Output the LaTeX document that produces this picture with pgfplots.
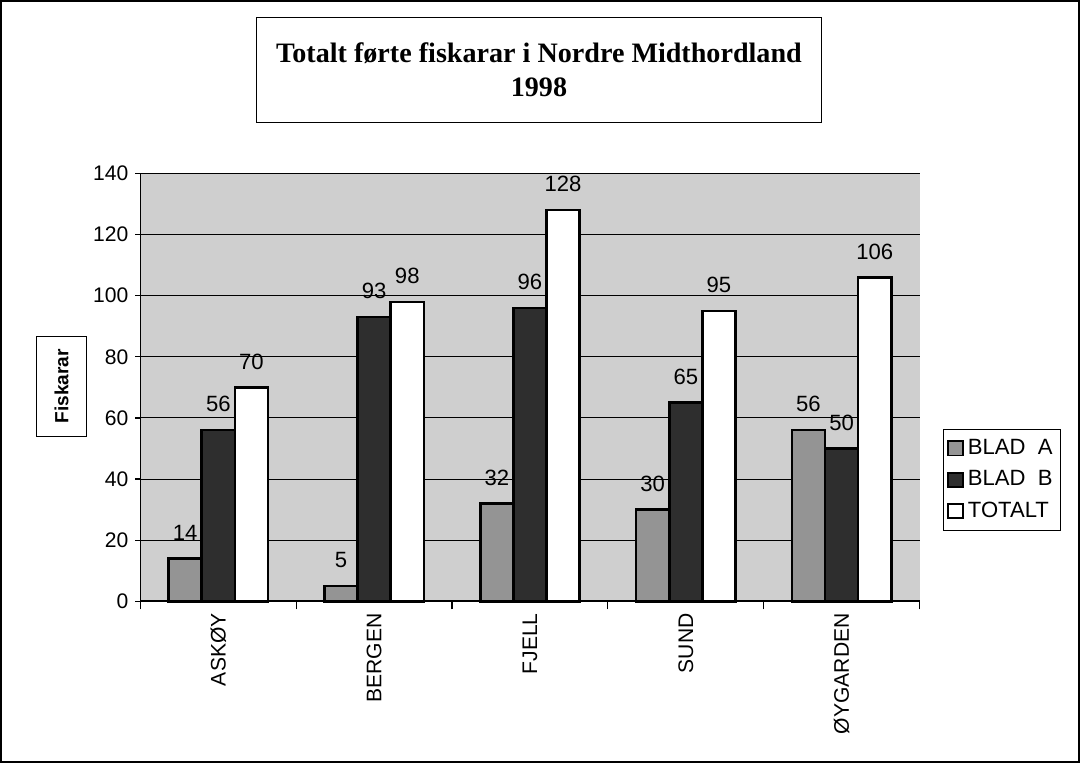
\documentclass[border=0pt]{standalone}
\usepackage{pgfplots}
\pgfplotsset{compat=1.18}
\usepackage{fontspec}
\setmainfont{Liberation Sans}
\newfontfamily\titlefont{Liberation Serif}
\definecolor{bgcol}{gray}{0.81}
\definecolor{colA}{gray}{0.58}
\definecolor{colB}{gray}{0.18}
\begin{document}
\begin{tikzpicture}
\draw[line width=0.8pt] (1.5pt,1.5pt) rectangle (538.5pt,380.5pt);
\node[draw, line width=0.5pt, minimum width=281pt, minimum height=52pt, align=center,
      font=\titlefont\bfseries\fontsize{14}{17}\selectfont] at (269.5pt,346pt)
  {Totalt førte fiskarar i Nordre Midthordland\\1998};
\node[draw, line width=0.5pt, rotate=90, minimum width=50pt, minimum height=24.5pt,
      font=\bfseries\fontsize{9.5}{11}\selectfont] at (31.75pt,188.5pt) {Fiskarar};
\begin{axis}[
  at={(71pt,81.5pt)}, anchor=south west,
  width=388pt, height=213pt, scale only axis,
  ybar=0pt, bar width=16.5pt,
  xmin=-0.5, xmax=4.5, ymin=0, ymax=140,
  ytick={0,20,...,140},
  xtick={0,1,2,3,4},
  xticklabels={ASKØY,BERGEN,FJELL,SUND,ØYGARDEN},
  minor xtick={-0.5,0.5,1.5,2.5,3.5,4.5},
  major x tick style={draw=none},
  minor tick length=4pt, major tick length=2.5pt,
  tick align=outside,
  axis x line*=bottom, axis y line*=left,
  axis line style={line width=0.8pt},
  ymajorgrids, grid style={black, line width=0.5pt},
  axis background/.style={fill=bgcol},
  tick style={black, line width=0.6pt},
  /pgf/number format/assume math mode=true,
  ticklabel style={font=\fontsize{10.5}{12}\selectfont},
  xticklabel style={rotate=90, anchor=east},
  nodes near coords,
  every node near coord/.append style={font=\fontsize{11}{13}\selectfont, yshift=5pt},
  clip=false,
  legend style={at={(1.0296,0.284)}, anchor=west, draw=black, fill=white,
    font=\fontsize{11}{13}\selectfont, row sep=2.5pt, inner xsep=2pt, inner ysep=3pt,
    cells={anchor=west}},
  legend image code/.code={\draw[#1, line width=0.9pt] (0pt,-3.5pt) rectangle (7.5pt,3.5pt);},
]
\addplot[draw=black, line width=1.3pt, fill=colA] coordinates {(0,14) (1,5) (2,32) (3,30) (4,56)};
\addplot[draw=black, line width=1.3pt, fill=colB] coordinates {(0,56) (1,93) (2,96) (3,65) (4,50)};
\addplot[draw=black, line width=1.3pt, fill=white] coordinates {(0,70) (1,98) (2,128) (3,95) (4,106)};
\legend{BLAD\ \ A, BLAD\ \ B, TOTALT}
\end{axis}
\end{tikzpicture}
\end{document}
